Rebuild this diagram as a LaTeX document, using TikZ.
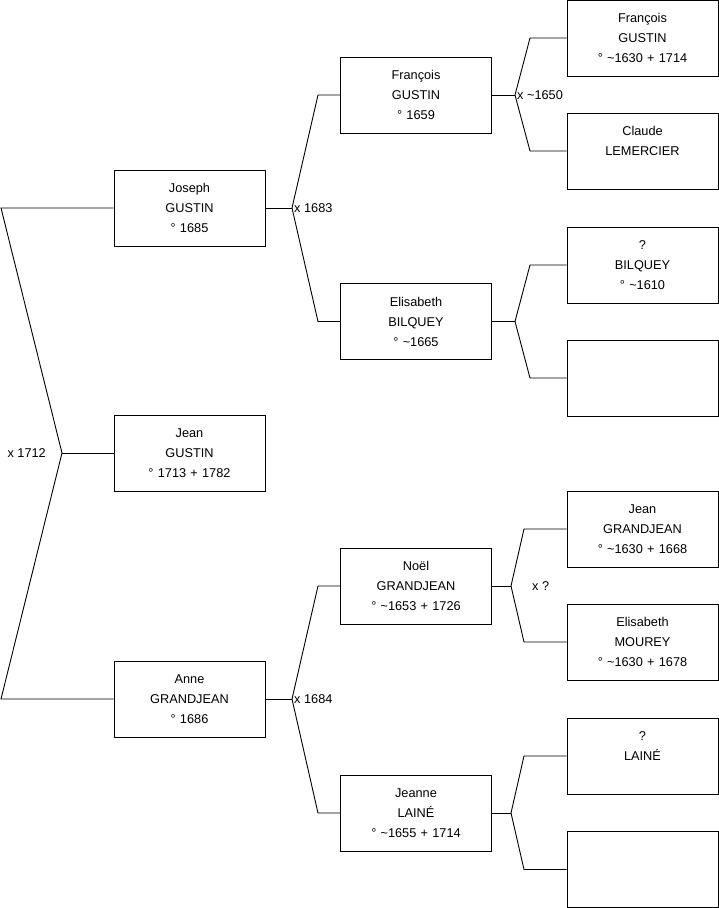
\documentclass[tikz,border=0pt]{standalone}
\usepackage{fontspec}
\setmainfont{Liberation Sans}
\usetikzlibrary{positioning}

\begin{document}
\begin{tikzpicture}[
    x=1pt, y=-1pt,
    person/.style={rectangle, draw, line width=0.9pt, minimum width=151pt, minimum height=76pt, text width=145pt, align=center, inner sep=0pt, font=\fontsize{12.75}{20}\selectfont},
    link/.style={draw, line width=0.9pt},
    mar/.style={inner sep=1pt, font=\fontsize{12.75}{15}\selectfont}
]
\useasboundingbox (0,0) rectangle (719,908);

% generation 1
\node[person] (joseph) at (189.5, 208) {Joseph\\GUSTIN\\° 1685};
\node[person] (jean) at (189.5, 453) {Jean\\GUSTIN\\° 1713 + 1782};
\node[person] (anne) at (189.5, 699) {Anne\\GRANDJEAN\\° 1686};

% generation 2
\node[person] (francois) at (416, 95) {François\\GUSTIN\\° 1659};
\node[person] (elisabeth) at (416, 321.5) {Elisabeth\\BILQUEY\\° \textasciitilde 1665};
\node[person] (noel) at (416, 586) {Noël\\GRANDJEAN\\° \textasciitilde 1653 + 1726};
\node[person] (jeanne) at (416, 813) {Jeanne\\LAINÉ\\° \textasciitilde 1655 + 1714};

% generation 3
\node[person] (francoisg) at (642.5, 38) {François\\GUSTIN\\° \textasciitilde 1630 + 1714};
\node[person] (claude) at (642.5, 151) {Claude\\LEMERCIER\\\phantom{1}};
\node[person] (bilquey) at (642.5, 265) {?\\BILQUEY\\° \textasciitilde 1610};
\node[person] (empty1) at (642.5, 378) {};
\node[person] (jeang) at (642.5, 529) {Jean\\GRANDJEAN\\° \textasciitilde 1630 + 1668};
\node[person] (mourey) at (642.5, 642) {Elisabeth\\MOUREY\\° \textasciitilde 1630 + 1678};
\node[person] (laine) at (642.5, 756) {?\\LAINÉ\\\phantom{1}};
\node[person] (empty2) at (642.5, 869.5) {};

% junctions
\coordinate (j1) at (62, 453);
\coordinate (a1) at (1, 208);
\coordinate (b1) at (1, 699);
\coordinate (j2) at (292, 208);
\coordinate (a2) at (318, 95);
\coordinate (b2) at (318, 321.5);
\coordinate (j3) at (292, 699);
\coordinate (a3) at (318, 586);
\coordinate (b3) at (318, 813);
\coordinate (j4) at (515, 95);
\coordinate (a4) at (530, 38);
\coordinate (b4) at (530, 151);
\coordinate (j5) at (515, 321.5);
\coordinate (a5) at (530, 265);
\coordinate (b5) at (530, 378);
\coordinate (j6) at (511, 586);
\coordinate (a6) at (524, 529);
\coordinate (b6) at (524, 642);
\coordinate (j7) at (511, 813);
\coordinate (a7) at (524, 756);
\coordinate (b7) at (524, 869.5);

% parent links
\draw[link] (joseph.west) -- (a1) -- (j1) -- (b1) -- (anne.west);
\draw[link] (j1) -- (jean.west);
\draw[link] (francois.west) -- (a2) -- (j2) -- (b2) -- (elisabeth.west);
\draw[link] (j2) -- (joseph.east);
\draw[link] (noel.west) -- (a3) -- (j3) -- (b3) -- (jeanne.west);
\draw[link] (j3) -- (anne.east);
\draw[link] (francoisg.west) -- (a4) -- (j4) -- (b4) -- (claude.west);
\draw[link] (j4) -- (francois.east);
\draw[link] (bilquey.west) -- (a5) -- (j5) -- (b5) -- (empty1.west);
\draw[link] (j5) -- (elisabeth.east);
\draw[link] (jeang.west) -- (a6) -- (j6) -- (b6) -- (mourey.west);
\draw[link] (j6) -- (noel.east);
\draw[link] (laine.west) -- (a7) -- (j7) -- (b7) -- (empty2.west);
\draw[link] (j7) -- (jeanne.east);

% marriages
\node[mar, left=15pt of j1] (m1) {x 1712};
\node[mar, right=1pt of j2] (m2) {x 1683};
\node[mar, right=1pt of j3] (m3) {x 1684};
\node[mar, right=1pt of j4] (m4) {x \textasciitilde 1650};
\node[mar, right=20pt of j6] (m6) {x ?};

\end{tikzpicture}
\end{document}
